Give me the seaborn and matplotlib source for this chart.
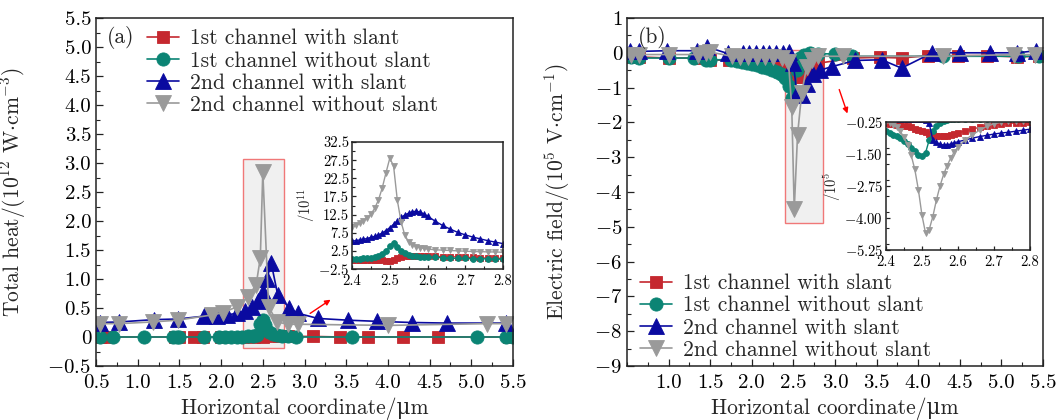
import numpy as np
import pandas as pd
import matplotlib
matplotlib.use("Agg")
import matplotlib.pyplot as plt
import seaborn as sns
from matplotlib.patches import Rectangle
from matplotlib.ticker import FixedLocator, FixedFormatter, MultipleLocator

# ---------------- data ----------------
series_names = ["1st channel with slant", "1st channel without slant",
                "2nd channel with slant", "2nd channel without slant"]
series_colors = ["#c5282f", "#0b8474", "#0a0aa0", "#9a9a9a"]
series_markers = ["s", "o", "^", "v"]

# panel (a): total heat (1e12 W/cm3)
red_a_x = [0.55, 0.65, 1.45, 1.5, 1.68, 1.78, 2.0, 2.25, 2.4, 2.5, 2.6, 2.7, 2.8, 3.1, 3.43, 3.76, 4.18, 4.6, 5.45]
red_a_y = [0, 0, 0, 0, 0, 0, 0, 0, 0.0, 0.0, 0.02, 0.02, 0.01, 0.01, 0, 0, 0, 0, 0]
teal_a_x = [0.55, 0.7, 1.08, 1.42, 1.47, 1.5, 1.8, 1.98, 2.05, 2.12, 2.19, 2.25, 2.32, 2.38, 2.43, 2.47,
            2.5, 2.53, 2.57, 2.62, 2.67, 2.73, 2.8, 2.9, 3.57, 5.07, 5.42, 5.5]
teal_a_y = [0, 0, 0, 0, 0, 0, 0, 0, 0, 0, 0, 0, 0.01, 0.02, 0.04, 0.22,
            0.3, 0.2, 0.09, 0.05, 0.03, 0.02, 0.01, 0, 0, 0, 0, 0]
blue_a_x = [0.55, 0.78, 1.2, 1.48, 1.8, 1.95, 2.07, 2.19, 2.29, 2.37, 2.44, 2.5, 2.55, 2.6, 2.68,
            2.82, 2.92, 3.16, 3.52, 3.87, 4.29, 4.71, 5.42]
blue_a_y = [0.25, 0.26, 0.3, 0.31, 0.36, 0.37, 0.38, 0.41, 0.45, 0.52, 0.62, 0.78, 1.0, 1.28, 0.72,
            0.5, 0.41, 0.32, 0.29, 0.27, 0.25, 0.24, 0.24]
gray_a_x = [0.55, 0.78, 1.18, 1.48, 1.89, 2.02, 2.19, 2.32, 2.42, 2.47, 2.5, 2.57, 2.67, 2.8, 2.92, 4.0, 5.19, 5.42]
gray_a_y = [0.23, 0.23, 0.26, 0.29, 0.38, 0.42, 0.52, 0.69, 0.9, 1.36, 2.84, 0.52, 0.26, 0.22, 0.22, 0.2, 0.23, 0.23]

# panel (b): electric field (1e5 V/cm)
red_b_x = [0.55, 0.65, 1.0, 1.35, 1.5, 1.72, 2.0, 2.3, 2.45, 2.52, 2.56, 2.62, 2.7, 2.8, 3.22, 3.54, 3.8,
           4.12, 4.48, 4.83, 5.19, 5.45]
red_b_y = [-0.12, -0.12, -0.15, -0.15, -0.2, -0.22, -0.25, -0.3, -0.4, -0.55, -0.7, -0.7, -0.5, -0.3,
           -0.15, -0.13, -0.15, -0.08, -0.08, -0.08, -0.12, -0.1]
teal_b_x = [0.55, 0.65, 1.0, 1.3, 1.45, 1.5, 1.75, 1.82, 1.88, 1.94, 2.0, 2.06, 2.12, 2.18, 2.24, 2.3,
            2.35, 2.4, 2.45, 2.48, 2.51, 2.54, 2.58, 2.63, 2.7, 2.8, 3.0, 3.2, 4.3, 5.2, 5.45]
teal_b_y = [-0.12, -0.15, -0.15, -0.15, -0.2, -0.2, -0.2, -0.24, -0.27, -0.3, -0.33, -0.36, -0.4, -0.44,
            -0.49, -0.55, -0.62, -0.72, -0.95, -1.3, -1.25, -0.5, -0.15, -0.05, -0.02, -0.03, -0.03,
            -0.1, -0.1, -0.1, -0.1]
blue_b_x = [0.54, 0.65, 0.98, 1.34, 1.46, 1.71, 1.89, 1.97, 2.05, 2.13, 2.21, 2.29, 2.37, 2.45, 2.5,
            2.54, 2.6, 2.66, 2.74, 2.82, 2.96, 3.24, 3.56, 3.8, 4.17, 4.5, 4.86, 5.19, 5.42]
blue_b_y = [0.06, 0.04, 0.06, 0.06, 0.17, -0.02, 0.0, 0.0, 0.0, 0.0, 0.0, 0.0, 0.0, 0.02, -0.3,
            -1.15, -1.2, -0.9, -0.6, -0.5, -0.4, -0.22, -0.2, -0.44, 0.0, 0.0, 0.0, 0.0, 0.06]
gray_b_x = [0.55, 0.65, 1.0, 1.35, 1.45, 1.5, 1.76, 1.86, 1.96, 2.06, 2.16, 2.26, 2.36, 2.44, 2.48,
            2.51, 2.55, 2.6, 2.66, 2.72, 2.8, 3.1, 4.3, 5.15, 5.4]
gray_b_y = [-0.05, -0.05, -0.05, -0.05, 0.0, 0.02, -0.1, -0.12, -0.12, -0.12, -0.12, -0.13, -0.15,
            -0.25, -1.55, -4.5, -2.35, -1.15, -0.4, -0.2, -0.1, -0.1, -0.1, -0.05, -0.05]

# insets (zoom 2.4 - 2.8 um)
ins_x = [2.40, 2.41, 2.42, 2.43, 2.44, 2.45, 2.46, 2.47, 2.48, 2.49, 2.50, 2.51, 2.52, 2.53, 2.54,
         2.55, 2.56, 2.57, 2.58, 2.59, 2.60, 2.62, 2.64, 2.66, 2.68, 2.70, 2.72, 2.74, 2.76, 2.78, 2.80]
ins_a_red = [-0.1, -0.1, -0.1, -0.1, -0.1, -0.1, -0.1, -0.1, -0.1, -0.2, -0.4, 0.0, 0.6, 0.9, 1.0,
             1.0, 1.0, 1.0, 1.0, 1.0, 1.0, 1.0, 0.9, 0.9, 0.8, 0.7, 0.7, 0.6, 0.5, 0.5, 0.4]
ins_a_teal = [0.3, 0.3, 0.3, 0.4, 0.4, 0.5, 0.7, 1.0, 1.5, 2.4, 3.8, 4.6, 3.7, 2.5, 1.8,
              1.4, 1.2, 1.0, 0.9, 0.9, 0.8, 0.7, 0.6, 0.5, 0.4, 0.4, 0.3, 0.3, 0.3, 0.2, 0.2]
ins_a_blue = [5.2, 5.3, 5.5, 5.7, 5.9, 6.2, 6.5, 6.9, 7.4, 8.1, 8.9, 9.8, 10.8, 11.7, 12.4,
              12.9, 13.3, 13.4, 13.2, 12.7, 12.1, 10.7, 9.5, 8.5, 7.6, 6.9, 6.3, 5.8, 5.3, 4.9, 4.5]
ins_a_gray = [9.0, 9.5, 10.1, 10.8, 11.6, 12.6, 14.2, 16.5, 19.8, 24.0, 28.0, 26.0, 16.5, 10.5, 6.8,
              5.0, 4.2, 3.7, 3.4, 3.2, 3.0, 2.8, 2.7, 2.6, 2.5, 2.4, 2.3, 2.3, 2.2, 2.2, 2.1]
ins_b_red = [-0.3, -0.31, -0.33, -0.35, -0.37, -0.39, -0.42, -0.46, -0.51, -0.56, -0.62, -0.66, -0.7,
             -0.75, -0.79, -0.8, -0.8, -0.79, -0.76, -0.72, -0.68, -0.6, -0.52, -0.46, -0.4, -0.36,
             -0.33, -0.3, -0.29, -0.28, -0.26]
ins_b_teal = [-0.62, -0.68, -0.74, -0.8, -0.88, -0.98, -1.1, -1.25, -1.4, -1.52, -1.58, -1.45, -0.95,
              -0.6, -0.4, -0.3, -0.22, -0.18, -0.15, -0.13, -0.12, -0.12, -0.12, -0.12, -0.12, -0.12,
              -0.12, -0.12, -0.12, -0.12, -0.12]
ins_b_blue = [-0.15, -0.15, -0.15, -0.15, -0.15, -0.15, -0.15, -0.15, -0.15, -0.15, -0.15, -0.18, -0.3,
              -0.95, -1.05, -1.12, -1.15, -1.14, -1.11, -1.06, -1.02, -0.95, -0.88, -0.82, -0.77, -0.72,
              -0.68, -0.65, -0.61, -0.57, -0.53]
ins_b_gray = [-0.22, -0.28, -0.35, -0.45, -0.62, -0.85, -1.15, -1.55, -2.1, -2.9, -3.9, -4.6, -4.45,
              -3.95, -3.3, -2.75, -2.3, -1.95, -1.65, -1.42, -1.22, -0.95, -0.75, -0.57, -0.42, -0.32,
              -0.26, -0.23, -0.21, -0.2, -0.2]

# tick labels
xt_a = [0.5, 1.0, 1.5, 2.0, 2.5, 3.0, 3.5, 4.0, 4.5, 5.0, 5.5]
xt_a_lab = ["0.5", "1.0", "1.5", "2.0", "2.5", "3.0", "3.5", "4.0", "4.5", "5.0", "5.5"]
xt_b = [1.0, 1.5, 2.0, 2.5, 3.0, 3.5, 4.0, 4.5, 5.0, 5.5]
xt_b_lab = ["1.0", "1.5", "2.0", "2.5", "3.0", "3.5", "4.0", "4.5", "5.0", "5.5"]
yt_a = [-0.5, 0, 0.5, 1.0, 1.5, 2.0, 2.5, 3.0, 3.5, 4.0, 4.5, 5.0, 5.5]
yt_a_lab = [r"$-0.5$", "0", "0.5", "1.0", "1.5", "2.0", "2.5", "3.0", "3.5", "4.0", "4.5", "5.0", "5.5"]
yt_b = [-9, -8, -7, -6, -5, -4, -3, -2, -1, 0, 1]
yt_b_lab = [r"$-9$", r"$-8$", r"$-7$", r"$-6$", r"$-5$", r"$-4$", r"$-3$", r"$-2$", r"$-1$", "0", "1"]
ins_xt = [2.4, 2.5, 2.6, 2.7, 2.8]
ins_xt_lab = ["2.4", "2.5", "2.6", "2.7", "2.8"]
ins_a_yt = [-2.5, 2.5, 7.5, 12.5, 17.5, 22.5, 27.5, 32.5]
ins_a_yt_lab = [r"$-2.5$", "2.5", "7.5", "12.5", "17.5", "22.5", "27.5", "32.5"]
ins_b_yt = [-5.25, -4.00, -2.75, -1.50, -0.25]
ins_b_yt_lab = [r"$-5.25$", r"$-4.00$", r"$-2.75$", r"$-1.50$", r"$-0.25$"]

# ---------------- style ----------------
sns.set_theme(style="white")
plt.rcParams["font.family"] = ["cmr10", "DejaVu Serif"]
plt.rcParams["mathtext.fontset"] = "cm"
plt.rcParams["axes.unicode_minus"] = False
plt.rcParams["axes.linewidth"] = 1.1
plt.rcParams["axes.edgecolor"] = "#222222"

FS = 15.5
FST = 15
fig = plt.figure(figsize=(10.59, 4.20), dpi=100)
ax_a = fig.add_axes([96 / 1059, 54 / 420, 417 / 1059, 348 / 420])
ax_b = fig.add_axes([627 / 1059, 54 / 420, 416 / 1059, 348 / 420])
in_a = fig.add_axes([352 / 1059, 151 / 420, 151 / 1059, 127 / 420])
in_b = fig.add_axes([886 / 1059, 170 / 420, 144 / 1059, 128 / 420])


def draw(ax, x, y, k, ms, lw, label=None):
    df = pd.DataFrame({"x": x, "y": y})
    sns.lineplot(data=df, x="x", y="y", ax=ax, color=series_colors[k], marker=series_markers[k],
                 markersize=ms, markeredgecolor=series_colors[k], markeredgewidth=0.6,
                 linewidth=lw, sort=False, estimator=None, label=label, legend=False)


def style(ax, fs):
    ax.tick_params(axis="both", which="both", direction="in", left=True, bottom=True,
                   top=False, right=False, labelsize=fs, colors="#222222", labelcolor="black")
    ax.tick_params(which="major", length=5, width=0.9)
    ax.tick_params(which="minor", length=3, width=0.8)
    ax.set_xlabel("")
    ax.set_ylabel("")
    for s in ax.spines.values():
        s.set_visible(True)


ms_main = [9, 9.5, 11.5, 11.5]

# panel (a)
ax_a.add_patch(Rectangle((2.26, -0.19), 0.49, 3.26, facecolor="#f0f0f0", edgecolor="#f07878",
                         linewidth=1.0, zorder=0.5))
for k, (x, y) in enumerate([(red_a_x, red_a_y), (teal_a_x, teal_a_y), (blue_a_x, blue_a_y), (gray_a_x, gray_a_y)]):
    draw(ax_a, x, y, k, ms_main[k], 1.2, series_names[k])
ax_a.set_xlim(0.5, 5.5)
ax_a.set_ylim(-0.5, 5.5)
ax_a.xaxis.set_major_locator(FixedLocator(xt_a))
ax_a.xaxis.set_major_formatter(FixedFormatter(xt_a_lab))
ax_a.yaxis.set_major_locator(FixedLocator(yt_a))
ax_a.yaxis.set_major_formatter(FixedFormatter(yt_a_lab))
ax_a.xaxis.set_minor_locator(MultipleLocator(0.25))
ax_a.yaxis.set_minor_locator(MultipleLocator(0.25))
style(ax_a, FST)
ax_a.tick_params(axis="x", pad=5.5)
ax_a.set_xlabel("Horizontal coordinate/μm", fontsize=FS)
ax_a.set_ylabel(r"Total heat/(10$^{12}$ W$\cdot$cm$^{-3}$)", fontsize=FS)
ax_a.xaxis.set_label_coords(0.5, -0.09)
ax_a.yaxis.set_label_coords(-0.163, 0.5)
ax_a.text(0.025, 0.945, "(a)", transform=ax_a.transAxes, fontsize=FS, va="center")
ax_a.legend(loc="upper left", bbox_to_anchor=(0.085, 1.012), frameon=False, fontsize=FS,
            handlelength=1.5, handletextpad=0.5, labelspacing=0.12, borderpad=0.2)
ax_a.annotate("", xy=(3.34, 0.67), xytext=(3.04, 0.38),
              arrowprops=dict(arrowstyle="-|>", color="red", lw=1.0, mutation_scale=8))

# panel (b)
ax_b.add_patch(Rectangle((2.40, -4.89), 0.46, 4.97, facecolor="#f0f0f0", edgecolor="#f07878",
                         linewidth=1.0, zorder=0.5))
for k, (x, y) in enumerate([(red_b_x, red_b_y), (teal_b_x, teal_b_y), (blue_b_x, blue_b_y), (gray_b_x, gray_b_y)]):
    draw(ax_b, x, y, k, ms_main[k], 1.2, series_names[k])
ax_b.set_xlim(0.5, 5.5)
ax_b.set_ylim(-9, 1)
ax_b.xaxis.set_major_locator(FixedLocator(xt_b))
ax_b.xaxis.set_major_formatter(FixedFormatter(xt_b_lab))
ax_b.yaxis.set_major_locator(FixedLocator(yt_b))
ax_b.yaxis.set_major_formatter(FixedFormatter(yt_b_lab))
ax_b.xaxis.set_minor_locator(MultipleLocator(0.25))
ax_b.yaxis.set_minor_locator(MultipleLocator(0.5))
style(ax_b, FST)
ax_b.tick_params(axis="x", pad=5.5)
ax_b.set_xlabel("Horizontal coordinate/μm", fontsize=FS)
ax_b.set_ylabel(r"Electric field/(10$^{5}$ V$\cdot$cm$^{-1}$)", fontsize=FS)
ax_b.xaxis.set_label_coords(0.5, -0.09)
ax_b.yaxis.set_label_coords(-0.132, 0.5)
ax_b.text(0.025, 0.945, "(b)", transform=ax_b.transAxes, fontsize=FS, va="center")
ax_b.legend(loc="lower left", bbox_to_anchor=(-0.005, -0.025), frameon=False, fontsize=FS,
            handlelength=1.5, handletextpad=0.5, labelspacing=0.12, borderpad=0.2)
ax_b.annotate("", xy=(3.16, -1.82), xytext=(3.04, -0.98),
              arrowprops=dict(arrowstyle="-|>", color="red", lw=1.0, mutation_scale=8))

# insets
FSI = 10.5
for ax, ys, yt, ytl, ylim, lab, lx in [
        (in_a, [ins_a_red, ins_a_teal, ins_a_blue, ins_a_gray], ins_a_yt, ins_a_yt_lab, (-2.5, 32.5), r"/10$^{11}$", -0.235),
        (in_b, [ins_b_red, ins_b_teal, ins_b_blue, ins_b_gray], ins_b_yt, ins_b_yt_lab, (-5.25, -0.25), r"/10$^{5}$", -0.30)]:
    for k, y in enumerate(ys):
        draw(ax, ins_x, y, k, 4.2, 1.0)
    ax.set_xlim(2.4, 2.8)
    ax.set_ylim(*ylim)
    ax.xaxis.set_major_locator(FixedLocator(ins_xt))
    ax.xaxis.set_major_formatter(FixedFormatter(ins_xt_lab))
    ax.yaxis.set_major_locator(FixedLocator(yt))
    ax.yaxis.set_major_formatter(FixedFormatter(ytl))
    ax.xaxis.set_minor_locator(MultipleLocator(0.05))
    ax.yaxis.set_minor_locator(MultipleLocator((yt[1] - yt[0]) / 2))
    style(ax, FSI)
    ax.tick_params(which="major", length=3)
    ax.tick_params(which="minor", length=2)
    ax.tick_params(axis="y", pad=2)
    ax.tick_params(axis="x", pad=4)
    ax.set_ylabel(lab, fontsize=FSI)
    ax.yaxis.set_label_coords(lx, 0.5)
    ax.set_facecolor("white")

fig.savefig("out.png", dpi=100)
